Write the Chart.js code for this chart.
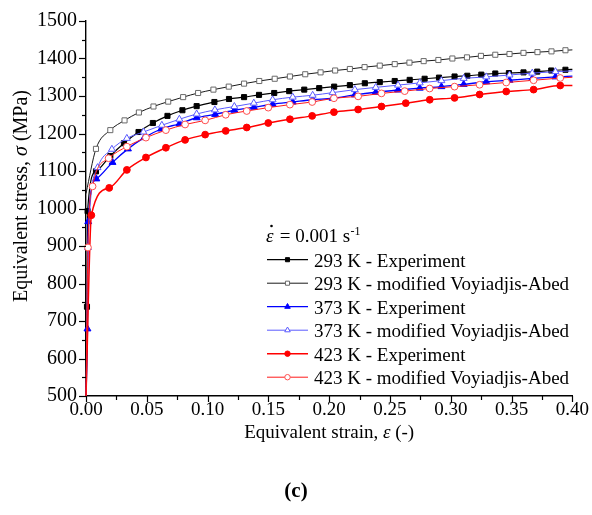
<!DOCTYPE html>
<html><head><meta charset="utf-8">
<script src="https://cdn.jsdelivr.net/npm/chart.js@4/dist/chart.umd.min.js"></script>
<style>html,body{margin:0;padding:0;background:#fff;}</style>
</head><body>
<canvas id="c" width="592" height="515"></canvas>
<script>
// ---- data (strain, stress in MPa) ----
const legendLabels = ['293 K - Experiment','293 K - modified Voyiadjis-Abed','373 K - Experiment','373 K - modified Voyiadjis-Abed','423 K - Experiment','423 K - modified Voyiadjis-Abed'];
const xTicks = [0,0.05,0.10,0.15,0.20,0.25,0.30,0.35,0.40];
const yTicks = [500,600,700,800,900,1000,1100,1200,1300,1400,1500];

const strain293Exp = [0,0.0008,0.0013,0.0082,0.020,0.0312,0.0432,0.055,0.067,0.0793,0.091,0.1056,0.1176,0.130,0.1423,0.1548,0.1671,0.1795,0.1918,0.2041,0.217,0.2293,0.2416,0.2539,0.2662,0.2785,0.2903,0.3031,0.3136,0.3251,0.3366,0.3478,0.3598,0.3711,0.3826,0.3943,0.40];
const stress293Exp = [500,738,993,1099,1140,1174,1204,1228,1247,1262,1273,1284,1292,1297,1303,1308,1313,1317,1321,1325,1329,1334,1337,1340,1343,1346,1349,1352,1354,1357,1360,1361,1363,1365,1368,1370,1371];

const strain293Mod = [0,0.0082,0.020,0.0317,0.0435,0.0555,0.0676,0.0799,0.0922,0.1048,0.1174,0.130,0.1425,0.1552,0.1677,0.1803,0.1929,0.2049,0.217,0.2291,0.2416,0.2539,0.266,0.2777,0.2898,0.3013,0.3133,0.3248,0.3366,0.3483,0.3598,0.3713,0.3828,0.3943,0.40];
const stress293Mod = [1040,1159,1209,1235,1256,1272,1285,1297,1308,1317,1325,1333,1340,1346,1352,1358,1363,1368,1372,1377,1381,1385,1389,1393,1396,1400,1403,1407,1410,1412,1415,1417,1419,1422,1423];

const strain373Exp = [0,0.0012,0.0018,0.0085,0.0218,0.0345,0.0479,0.0618,0.0768,0.091,0.1062,0.122,0.1381,0.1535,0.170,0.1864,0.2028,0.2211,0.2383,0.2566,0.2745,0.2923,0.3106,0.3292,0.3483,0.367,0.3861,0.40];
const stress373Exp = [500,679,965,1079,1123,1159,1189,1212,1226,1242,1251,1262,1270,1278,1284,1290,1294,1303,1310,1316,1321,1325,1331,1338,1342,1347,1351,1353];

const strain373Mod = [0,0.0016,0.0095,0.0213,0.0336,0.0473,0.0624,0.0768,0.091,0.106,0.122,0.138,0.1535,0.170,0.1864,0.2028,0.2211,0.2383,0.2566,0.2745,0.2923,0.3106,0.3292,0.3483,0.367,0.3861,0.40];
const stress373Mod = [500,896,1109,1158,1187,1204,1222,1238,1252,1263,1272,1281,1290,1297,1302,1309,1317,1323,1329,1335,1341,1347,1351,1356,1361,1365,1367];

const strain423Exp = [0,0.0044,0.0191,0.0336,0.0493,0.0657,0.0815,0.098,0.1149,0.1322,0.1499,0.1677,0.186,0.2039,0.2238,0.243,0.263,0.2827,0.3031,0.3237,0.3456,0.3681,0.390,0.40];
const stress423Exp = [500,982,1055,1103,1136,1162,1183,1197,1207,1216,1228,1238,1247,1257,1264,1272,1281,1290,1295,1304,1312,1317,1328,1328];

const strain423Mod = [0,0.0016,0.0054,0.0186,0.0336,0.0493,0.0657,0.0815,0.098,0.1149,0.1322,0.1499,0.1677,0.186,0.2039,0.2238,0.243,0.2621,0.2826,0.3031,0.3237,0.3456,0.3681,0.390,0.40];
const stress423Mod = [500,896,1059,1134,1165,1189,1209,1224,1235,1250,1260,1269,1277,1284,1294,1299,1307,1313,1320,1325,1330,1336,1342,1348,1350];

// ---- build ----
const pts = (xs, ys) => xs.map((x, i) => ({x: x, y: ys[i]}));
const SERIF = "'Liberation Serif','Times New Roman',serif";
const styles = [
  {line:'#000000', w:1.2, ps:'rect', r:3.6, fill:'#000000', edge:'#000000'},
  {line:'#1a1a1a', w:1.0, ps:'rect', r:3.6, fill:'#ffffff', edge:'#6a6a6a'},
  {line:'#0000ff', w:1.3, ps:'triangle', r:4.0, fill:'#0000ff', edge:'#0000ff'},
  {line:'#5a5aff', w:1.0, ps:'triangle', r:4.0, fill:'#ffffff', edge:'#5a5aff'},
  {line:'#ff0000', w:1.5, ps:'circle', r:3.4, fill:'#ff0000', edge:'#ff0000'},
  {line:'#ff1a1a', w:1.0, ps:'circle', r:3.4, fill:'#ffffff', edge:'#ff4d4d'}
];
const series = [
  pts(strain293Exp, stress293Exp), pts(strain293Mod, stress293Mod),
  pts(strain373Exp, stress373Exp), pts(strain373Mod, stress373Mod),
  pts(strain423Exp, stress423Exp), pts(strain423Mod, stress423Mod)
];
const datasets = series.map((d, i) => {
  const s = styles[i];
  return {
    label: legendLabels[i], data: d,
    borderColor: s.line, borderWidth: s.w,
    pointStyle: s.ps,
    pointRadius: ctx => { const v = ctx.raw; return (!v || v.x === 0 || v.x >= 0.4) ? 0 : s.r; },
    pointBackgroundColor: s.fill, pointBorderColor: s.edge, pointBorderWidth: 1,
    cubicInterpolationMode: 'monotone', fill: false, clip: false,
    order: 5 - i
  };
});

const decor = {
  id: 'decor',
  afterDraw(chart) {
    const ctx = chart.ctx;
    const xs = chart.scales.x, ys = chart.scales.y;
    const ca = chart.chartArea;
    ctx.save();
    ctx.strokeStyle = '#000'; ctx.lineWidth = 1.2;
    // y ticks
    for (let v = 500; v <= 1500; v += 50) {
      const p = Math.round(ys.getPixelForValue(v)) + 0.5;
      const len = (v % 100 === 0) ? 7 : 4;
      ctx.beginPath(); ctx.moveTo(ca.left, p); ctx.lineTo(ca.left - len, p); ctx.stroke();
    }
    // x ticks
    for (let k = 0; k <= 16; k++) {
      const v = k * 0.025;
      const p = Math.round(xs.getPixelForValue(v)) + 0.5;
      const len = (k % 2 === 0) ? 6 : 4;
      ctx.beginPath(); ctx.moveTo(p, ca.bottom); ctx.lineTo(p, ca.bottom + len); ctx.stroke();
    }
    ctx.fillStyle = '#000';
    ctx.textBaseline = 'alphabetic';
    // x title
    const xParts = [['Equivalent strain, ', ''], ['\u03B5', 'italic '], [' (-)', '']];
    drawParts(ctx, xParts, 19, (ca.left + ca.right) / 2, 438);
    // y title (rotated)
    ctx.save();
    ctx.translate(27, 196);
    ctx.rotate(-Math.PI / 2);
    const yParts = [['Equivalent stress, ', ''], ['\u03C3', 'italic '], [' (MPa)', '']];
    drawParts(ctx, yParts, 20, 0, 0);
    ctx.restore();
    // (c)
    ctx.font = 'bold 21px ' + SERIF;
    ctx.textAlign = 'center';
    ctx.fillText('(c)', 296, 497);
    // legend title
    ctx.textAlign = 'left';
    ctx.font = 'italic 19px ' + SERIF;
    ctx.fillText('\u03B5', 266, 242);
    ctx.beginPath(); ctx.arc(271.5, 226, 1.3, 0, Math.PI * 2); ctx.fill();
    ctx.font = '19px ' + SERIF;
    const t1 = ' = 0.001 s';
    const wE = 9;
    ctx.fillText(t1, 266 + wE, 242);
    const w1 = ctx.measureText(t1).width;
    ctx.font = '12px ' + SERIF;
    ctx.fillText('-1', 266 + wE + w1 + 0.5, 235);
    // legend rows
    const baselines = [266.7, 290.2, 313.7, 337.2, 360.7, 384.2];
    legendLabels.forEach((lab, i) => {
      const s = styles[i];
      const yc = baselines[i] - 7;
      ctx.strokeStyle = s.line; ctx.lineWidth = s.w;
      ctx.beginPath(); ctx.moveTo(267, yc); ctx.lineTo(308, yc); ctx.stroke();
      ctx.fillStyle = s.fill; ctx.strokeStyle = s.edge; ctx.lineWidth = 1;
      Chart.helpers.drawPoint(ctx, {pointStyle: s.ps, radius: s.r * 0.8, rotation: 0, borderWidth: 1}, 287.5, yc);
      ctx.fillStyle = '#000';
      ctx.font = '19px ' + SERIF;
      ctx.fillText(lab, 314, baselines[i]);
    });
    ctx.restore();
  }
};
function drawParts(ctx, parts, size, cx, y) {
  let total = 0;
  const ws = parts.map(p => { ctx.font = p[1] + size + 'px ' + SERIF; const w = ctx.measureText(p[0]).width; total += w; return w; });
  let x = cx - total / 2;
  ctx.textAlign = 'left';
  parts.forEach((p, i) => { ctx.font = p[1] + size + 'px ' + SERIF; ctx.fillText(p[0], x, y); x += ws[i]; });
}

new Chart(document.getElementById('c'), {
  type: 'line',
  data: {datasets: datasets},
  options: {
    responsive: false, animation: false, devicePixelRatio: 1,
    layout: {padding: {left: 0, right: 16, top: 15, bottom: 0}},
    plugins: {legend: {display: false}, tooltip: {enabled: false}},
    scales: {
      x: {
        type: 'linear', min: 0, max: 0.4,
        border: {display: true, color: '#000', width: 1.4},
        grid: {display: false, drawTicks: false},
        afterBuildTicks: s => { s.ticks = xTicks.map(v => ({value: v})); },
        ticks: {callback: v => Number(v).toFixed(2), font: {family: SERIF, size: 19}, color: '#000', padding: 3, maxRotation: 0, autoSkip: false},
        afterFit: s => { s.height = 119; }
      },
      y: {
        type: 'linear', min: 500, max: 1500,
        border: {display: true, color: '#000', width: 1.4},
        grid: {display: false, drawTicks: false},
        afterBuildTicks: s => { s.ticks = yTicks.map(v => ({value: v})); },
        ticks: {callback: v => String(v), font: {family: SERIF, size: 20}, color: '#000', padding: 9, autoSkip: false},
        afterFit: s => { s.width = 86; }
      }
    }
  },
  plugins: [decor]
});
</script>
</body></html>
